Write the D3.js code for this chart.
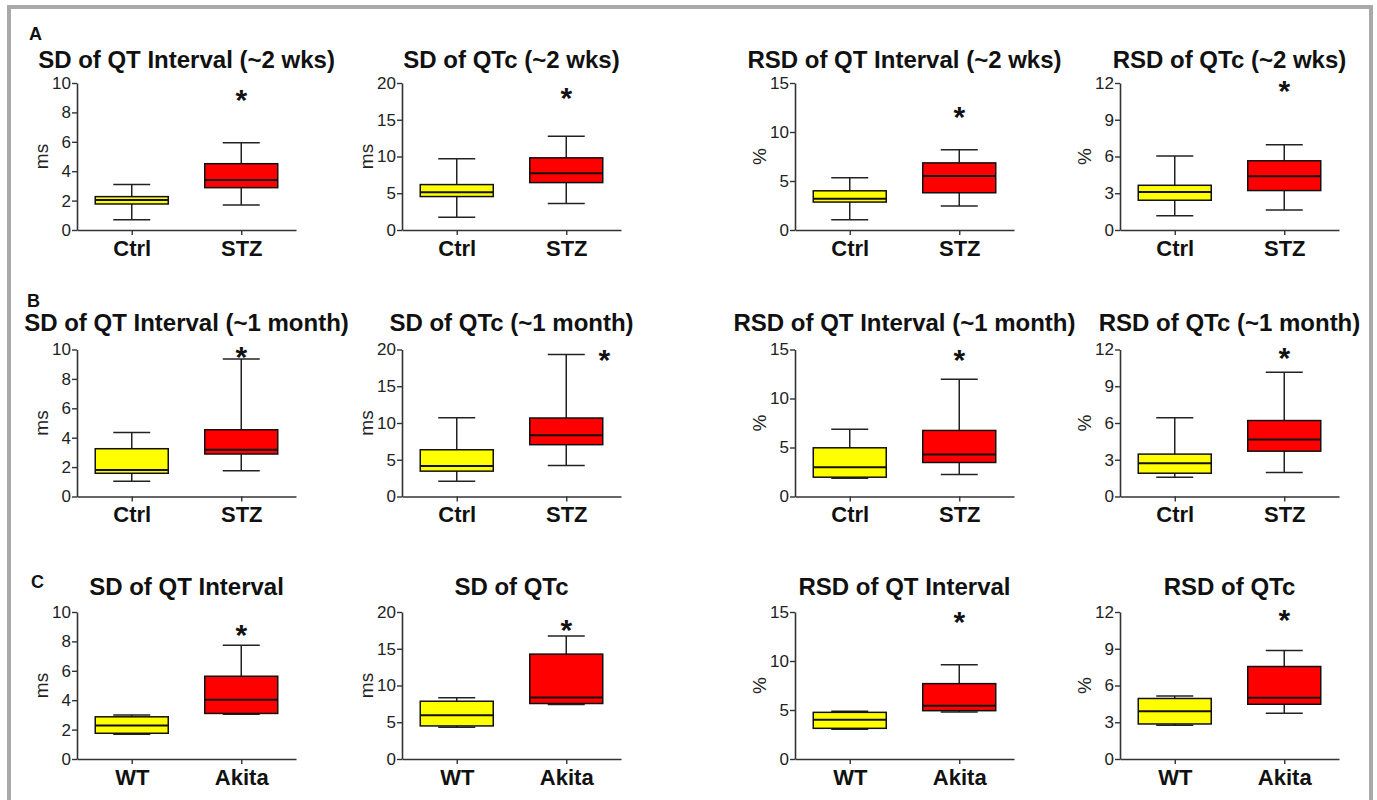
<!DOCTYPE html>
<html>
<head>
<meta charset="utf-8">
<script src="https://cdn.jsdelivr.net/npm/d3@7"></script>
<style>
  html, body { margin: 0; padding: 0; background: #fff; }
  svg { display: block; }
  text { font-family: "Liberation Sans", Arial, Helvetica, sans-serif; }
</style>
</head>
<body>
<svg id="chart" width="1377" height="800"></svg>
<script>
// ---------------- DATA ----------------
const panelLetters = ["A", "B", "C"];
const panelTitles = [
  "SD of QT Interval (~2 wks)", "SD of QTc (~2 wks)", "RSD of QT Interval (~2 wks)", "RSD of QTc (~2 wks)",
  "SD of QT Interval (~1 month)", "SD of QTc (~1 month)", "RSD of QT Interval (~1 month)", "RSD of QTc (~1 month)",
  "SD of QT Interval", "SD of QTc", "RSD of QT Interval", "RSD of QTc"
];
const groupLabels = [["Ctrl", "STZ"], ["Ctrl", "STZ"], ["WT", "Akita"]];
const yUnits = ["ms", "ms", "%", "%"];
const yMax = [10, 20, 15, 12];
const yTicks = [[0, 2, 4, 6, 8, 10], [0, 5, 10, 15, 20], [0, 5, 10, 15], [0, 3, 6, 9, 12]];

// control group (Ctrl / WT) box statistics, panels A1..A4, B1..B4, C1..C4
const ctrlMin    = [0.70, 1.75, 1.05, 1.17, 1.04, 2.09, 1.87, 1.58, 1.69, 4.32, 3.03, 2.75];
const ctrlQ1     = [1.77, 4.55, 2.85, 2.43, 1.58, 3.45, 1.97, 1.90, 1.75, 4.50, 3.13, 2.86];
const ctrlMedian = [2.04, 5.14, 3.19, 3.11, 1.81, 4.14, 2.99, 2.72, 2.28, 5.95, 4.01, 3.90];
const ctrlQ3     = [2.27, 6.18, 4.00, 3.65, 3.25, 6.36, 4.97, 3.46, 2.87, 7.86, 4.76, 4.94];
const ctrlMax    = [3.10, 9.68, 5.33, 6.05, 4.36, 10.73, 6.87, 6.42, 3.00, 8.32, 4.86, 5.15];

// diabetic group (STZ / Akita) box statistics
const diabMin    = [1.70, 3.59, 2.44, 1.64, 1.76, 4.23, 2.24, 1.96, 3.05, 7.41, 4.80, 3.74];
const diabQ1     = [2.88, 6.45, 3.80, 3.22, 2.89, 7.05, 3.47, 3.70, 3.10, 7.55, 4.93, 4.47];
const diabMedian = [3.40, 7.73, 5.50, 4.39, 3.18, 8.32, 4.29, 4.65, 4.03, 8.36, 5.44, 4.99];
const diabQ3     = [4.51, 9.82, 6.85, 5.65, 4.54, 10.68, 6.74, 6.20, 5.63, 14.27, 7.69, 7.55];
const diabMax    = [5.94, 12.77, 8.18, 6.95, 9.35, 19.32, 11.97, 10.15, 7.74, 16.73, 9.63, 8.86];

// significance asterisk level (in axis units) and horizontal shift flag
const starLevel  = [9.3, 18.9, 12.3, 11.9, 10.0, 19.5, 14.7, 11.9, 8.9, 18.5, 14.7, 11.9];
const starShift  = [0, 0, 0, 0, 0, 1, 0, 0, 0, 0, 0, 0];

// ---------------- LAYOUT ----------------
const svg = d3.select("#chart");
const colX = [77, 402, 795, 1120];
const rowBottom = [230, 496.5, 759];
const titleBase = [68, 331, 595];
const letterPos = [[29, 40], [27, 307], [31, 588]];
const plotW = 219, plotH = 147;
const boxW = 73, capW = 37;
const fillColors = ["#ffff00", "#ff0000"];

// frame
svg.append("rect")
  .attr("x", 9).attr("y", 7).attr("width", 1362).attr("height", 810)
  .attr("fill", "none").attr("stroke", "#a9a9a9").attr("stroke-width", 4);

// panel letters
panelLetters.forEach((L, r) => {
  svg.append("text").attr("x", letterPos[r][0]).attr("y", letterPos[r][1])
    .attr("font-size", 18).attr("font-weight", "bold").attr("fill", "#111").text(L);
});

panelTitles.forEach((title, i) => {
  const r = Math.floor(i / 4), c = i % 4;
  const g = svg.append("g");
  const y = d3.scaleLinear().domain([0, yMax[c]]).range([rowBottom[r], rowBottom[r] - plotH]);
  const x = d3.scalePoint().domain(groupLabels[r]).range([colX[c], colX[c] + plotW]).padding(0.5);

  // title
  g.append("text").attr("x", colX[c] + plotW / 2).attr("y", titleBase[r])
    .attr("text-anchor", "middle").attr("font-size", 24).attr("font-weight", "bold")
    .attr("fill", "#111").text(title);

  // y axis
  const ya = g.append("g").attr("transform", `translate(${colX[c]},0)`)
    .call(d3.axisLeft(y).tickValues(yTicks[c]).tickSize(5).tickSizeOuter(0).tickPadding(1));
  ya.attr("font-size", 17);
  ya.select(".domain").attr("stroke", "#333").attr("stroke-width", 1.6);
  ya.selectAll(".tick line").attr("stroke", "#333").attr("stroke-width", 1.4);
  ya.selectAll(".tick text").attr("font-size", 17).attr("fill", "#222")
    .style("font-family", '"Liberation Sans", Arial, sans-serif');

  // y label
  g.append("text")
    .attr("transform", `translate(${colX[c] - 35},${rowBottom[r] - plotH / 2}) rotate(-90)`)
    .attr("text-anchor", "middle").attr("dy", "0.3em")
    .attr("font-size", 19).attr("fill", "#222").text(yUnits[c]);

  // x axis
  const xa = g.append("g").attr("transform", `translate(0,${rowBottom[r]})`)
    .call(d3.axisBottom(x).tickSize(5).tickSizeOuter(0).tickPadding(5));
  xa.attr("font-size", 22);
  xa.select(".domain").attr("stroke", "#333").attr("stroke-width", 1.6);
  xa.selectAll(".tick line").attr("stroke", "#333").attr("stroke-width", 1.4);
  xa.selectAll(".tick text").attr("font-size", 22).attr("font-weight", "bold").attr("fill", "#111")
    .style("font-family", '"Liberation Sans", Arial, sans-serif');

  // boxes
  const stats = [
    { lo: ctrlMin[i], q1: ctrlQ1[i], med: ctrlMedian[i], q3: ctrlQ3[i], hi: ctrlMax[i] },
    { lo: diabMin[i], q1: diabQ1[i], med: diabMedian[i], q3: diabQ3[i], hi: diabMax[i] }
  ];
  stats.forEach((s, k) => {
    const cx = x(groupLabels[r][k]);
    const wg = g.append("g").attr("stroke", "#222").attr("stroke-width", 1.5);
    wg.append("line").attr("x1", cx).attr("x2", cx).attr("y1", y(s.lo)).attr("y2", y(s.hi));
    wg.append("line").attr("x1", cx - capW / 2).attr("x2", cx + capW / 2).attr("y1", y(s.hi)).attr("y2", y(s.hi));
    wg.append("line").attr("x1", cx - capW / 2).attr("x2", cx + capW / 2).attr("y1", y(s.lo)).attr("y2", y(s.lo));
    g.append("rect").attr("x", cx - boxW / 2).attr("width", boxW)
      .attr("y", y(s.q3)).attr("height", y(s.q1) - y(s.q3))
      .attr("fill", fillColors[k]).attr("stroke", "#111").attr("stroke-width", 1.5);
    g.append("line").attr("x1", cx - boxW / 2).attr("x2", cx + boxW / 2)
      .attr("y1", y(s.med)).attr("y2", y(s.med)).attr("stroke", "#111").attr("stroke-width", 2);
  });

  // asterisk
  const sx = x(groupLabels[r][1]) + starShift[i] * 38;
  g.append("text").attr("x", sx).attr("y", y(starLevel[i]) + 0.57 * 30)
    .attr("text-anchor", "middle").attr("font-size", 30).attr("font-weight", "bold")
    .attr("fill", "#111").text("*");
});
</script>
</body>
</html>
